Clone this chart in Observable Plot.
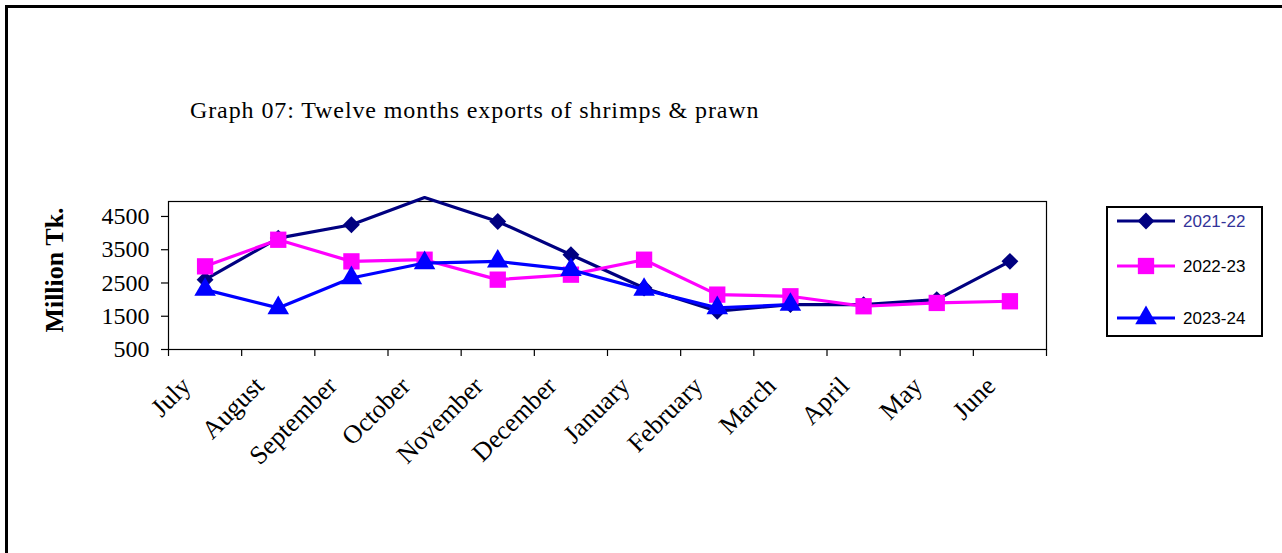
<!DOCTYPE html>
<html><head><meta charset="utf-8">
<script src="https://cdn.jsdelivr.net/npm/d3@7"></script>
<script src="https://cdn.jsdelivr.net/npm/@observablehq/plot@0.6"></script>
<style>
body{margin:0;background:#fff;}
#wrap{position:relative;width:1282px;height:553px;overflow:hidden;background:#fff;}
#chart{position:absolute;left:0;top:0;}
#border{position:absolute;left:5px;top:5px;width:1280px;height:600px;border:3px solid #000;box-sizing:border-box;}
#title{position:absolute;left:190px;top:97px;font:24px "Liberation Serif";letter-spacing:0.9px;white-space:nowrap;color:#000;}
#ylabel{position:absolute;left:55px;top:270px;transform:translate(-50%,-50%) rotate(-90deg);font:bold 26px "Liberation Serif";white-space:nowrap;}
#legend{position:absolute;left:1106px;top:206px;width:157px;height:131px;border:2px solid #000;box-sizing:border-box;background:#fff;}
</style></head><body>
<div id="wrap"><div id="border"></div><div id="chart"></div><div id="title"></div><div id="ylabel"></div><div id="legend"></div></div>
<script>
const titleText = "Graph 07: Twelve months exports of shrimps & prawn";
const yLabelText = "Million Tk.";
const months = ["July","August","September","October","November","December","January","February","March","April","May","June"];
const fy2122 = [2600,3850,4250,5070,4350,3350,2350,1650,1850,1850,2000,3150];
const fy2223 = [3000,3800,3150,3200,2600,2750,3200,2150,2100,1800,1900,1950];
const fy2324 = [2300,1750,2650,3100,3150,2900,2300,1750,1850];
const seriesNames = ["2021-22","2022-23","2023-24"];
const seriesColors = ["#000080","#FF00FF","#0000FF"];
const seriesSymbols = ["diamond2","square","triangle"];
const seriesR = [7.6,9.2,8];
const legendTextColors = ["#333399","#000","#000"];
const yTicks = [500,1500,2500,3500,4500];
const yMin = 500, yMax = 4950;

const seriesValues = [fy2122, fy2223, fy2324];
const rows = [];
seriesValues.forEach((arr, si) => arr.forEach((v, i) => rows.push({series: seriesNames[si], month: months[i], pos: i + 0.5, value: v})));
const monthRows = months.map((m, i) => ({month: m, pos: i + 0.5}));

document.getElementById("title").textContent = titleText;
document.getElementById("ylabel").textContent = yLabelText;

const marks = [
  Plot.frame({stroke: "#000", strokeWidth: 1.2}),
  Plot.axisY(yTicks, {tickSize: 7, tickPadding: 12, fontSize: 24, fontFamily: "Liberation Serif", tickFormat: d => String(d), label: null, stroke: "#000", strokeWidth: 1.2}),
  Plot.axisX(d3.range(0, 13), {tickSize: 7, tickFormat: () => "", label: null, strokeWidth: 1.2}),
  Plot.text(monthRows, {x: "pos", frameAnchor: "bottom", text: "month", rotate: -45, textAnchor: "end", dx: -13, dy: 38, fontSize: 26, fontFamily: "Liberation Serif", fill: "#000"})
];
seriesNames.forEach((name, si) => {
  const d = rows.filter(r => r.series === name);
  marks.push(Plot.line(d, {x: "pos", y: "value", stroke: seriesColors[si], strokeWidth: 3.2}));
  marks.push(Plot.dot(d.filter(r => r.value <= yMax), {x: "pos", y: "value", symbol: seriesSymbols[si], fill: seriesColors[si], stroke: "none", r: seriesR[si]}));
});

const chart = Plot.plot({
  width: 1282, height: 553,
  marginLeft: 168, marginRight: 236, marginTop: 201, marginBottom: 204,
  x: {type: "linear", domain: [0, 12]},
  y: {domain: [yMin, yMax]},
  style: {background: "transparent", overflow: "visible"},
  marks
});
document.getElementById("chart").appendChild(chart);

// legend
const lg = d3.select("#legend").append("svg").attr("width", 153).attr("height", 127);
const legendY = [13, 58, 110];
seriesNames.forEach((name, si) => {
  const g = lg.append("g").attr("transform", `translate(0,${legendY[si]})`);
  g.append("line").attr("x1", 9).attr("x2", 67).attr("y1", 0).attr("y2", 0).attr("stroke", seriesColors[si]).attr("stroke-width", 3.2);
  const sym = {diamond2: d3.symbolDiamond2, square: d3.symbolSquare, triangle: d3.symbolTriangle}[seriesSymbols[si]];
  g.append("path").attr("d", d3.symbol(sym, Math.PI * seriesR[si] * seriesR[si])()).attr("transform", "translate(38,0)").attr("fill", seriesColors[si]);
  g.append("text").attr("x", 75).attr("y", 0).attr("dy", "0.36em").attr("font-family", "Liberation Sans").attr("font-size", 17).attr("fill", legendTextColors[si]).text(name);
});
</script>
</body></html>
